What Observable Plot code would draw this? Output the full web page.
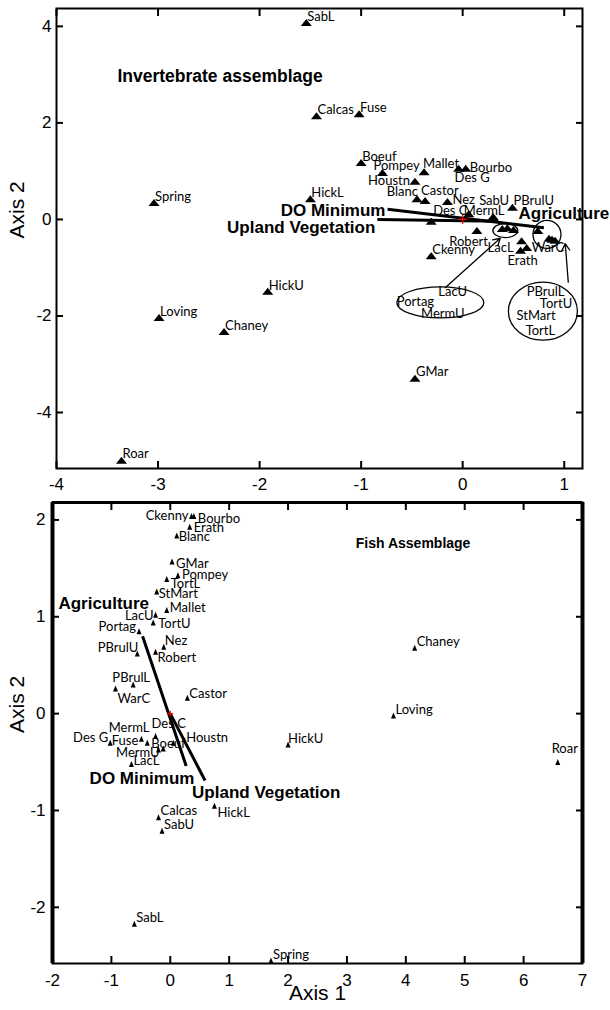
<!DOCTYPE html>
<html><head><meta charset="utf-8">
<script src="https://cdn.jsdelivr.net/npm/d3@7"></script>
<script src="https://cdn.jsdelivr.net/npm/@observablehq/plot@0.6"></script>
<style>body{margin:0;background:#fff;} #chart svg{display:block;}</style>
</head><body><div id="chart"></div>
<script>
// ---- data ----
const sites = ["SabL","Calcas","Fuse","Boeuf","Pompey","Mallet","Bourbo","Des G","Houstn","HickL","Blanc","Castor","Nez","SabU","PBrulU","MermL","Des C","Robert","Ckenny","LacL","WarC","Erath","LacU","Portag","MermU","PBrulL","TortU","StMart","TortL","Spring","Loving","HickU","Chaney","GMar","Roar"];
const invAxis1 = [-1.54,-1.44,-1.02,-1.00,-0.79,-0.38,0.03,-0.04,-0.47,-1.50,-0.45,-0.37,-0.15,0.30,0.49,0.06,-0.31,0.14,-0.31,0.58,0.63,0.57,0.39,0.44,0.50,0.74,0.85,0.88,0.91,-3.04,-2.99,-1.92,-2.35,-0.47,-3.36];
const invAxis2 = [4.08,2.15,2.19,1.18,0.97,0.99,1.06,1.06,0.79,0.43,0.43,0.39,0.37,0.06,0.25,0.12,-0.04,-0.23,-0.75,-0.44,-0.58,-0.64,-0.19,-0.17,-0.21,-0.23,-0.39,-0.41,-0.43,0.35,-2.03,-1.49,-2.32,-3.29,-4.99];
const fishAxis1 = [-0.61,-0.20,-0.39,-0.12,0.13,-0.06,0.40,-1.02,0.05,0.75,0.11,0.29,-0.11,-0.14,-0.56,-0.49,-0.25,-0.25,0.36,-0.66,-0.93,0.33,-0.25,-0.53,-0.20,-0.63,-0.29,-0.23,-0.06,1.71,3.79,2.00,4.15,0.03,6.58];
const fishAxis2 = [-2.17,-1.07,-0.30,-0.36,1.43,1.07,2.04,-0.30,-0.30,-0.95,1.84,0.165,0.69,-1.21,0.62,-0.26,-0.23,0.64,2.04,-0.52,0.26,1.93,1.02,0.85,-0.37,0.30,0.94,1.26,1.39,-2.55,-0.02,-0.32,0.68,1.57,-0.50];

const invTicksX = [-4,-3,-2,-1,0,1];
const invTicksY = [-4,-2,0,2,4];
const fishTicksX = [-2,-1,0,1,2,3,4,5,6,7];
const fishTicksY = [-2,-1,0,1,2];

// environmental vectors (segments)
const invVecX1 = [-0.74,-0.84];
const invVecY1 = [0.21,0.00];
const invVecX2 = [0.80,0.35];
const invVecY2 = [-0.17,-0.04];
const fishVecX1 = [-0.47,0.00];
const fishVecY1 = [0.80,0.00];
const fishVecX2 = [0.27,0.59];
const fishVecY2 = [-0.54,-0.69];

const vecLabels = ["DO Minimum","Upland Vegetation","Agriculture"];
const invVecLabelX = [-0.76,-0.86,0.55];
const invVecLabelY = [0.19,-0.17,0.12];
const fishVecLabelX = [-1.37,0.37,-1.90];
const fishVecLabelY = [-0.67,-0.81,1.14];

// callout groups (top panel)
const groupNames = [["LacU","Portag","MermU"],["PBrulL","TortU","StMart","TortL"]];
const groupCenterX = [-0.22,0.79];
const groupCenterY = [-1.72,-1.90];
const clusterCenterX = [0.42,0.83];
const clusterCenterY = [-0.23,-0.31];
const calloutTextX = [-0.24,-0.65,-0.41,0.63,0.76,0.53,0.62];
const calloutTextY = [-1.51,-1.70,-1.95,-1.51,-1.74,-1.99,-2.30];
const arrowX1 = [-0.17,1.04];
const arrowY1 = [-1.41,-1.30];
const arrowX2 = [0.37,1.01];
const arrowY2 = [-0.39,-0.50];

// ---- label placement (style) ----
const invPlace = {
  "Bourbo":["start",4,0],"Des G":["start",-4,10],"Pompey":["start",-9,-7],"Mallet":["start",-1,-8],
  "Houstn":["end",-5,0],"Blanc":["end",1,-7],"Castor":["start",-4,-10],"Nez":["start",5,-2],
  "SabU":["start",-14,-16],"PBrulU":["start",1,-7],"MermL":["start",-5,-3],"Des C":["start",2,-11],
  "Robert":["end",11,11],"LacL":["end",-8,7],"WarC":["start",5,0],"Erath":["middle",2,11],
  "LacU":null,"Portag":null,"MermU":null,"PBrulL":null,"TortU":null,"StMart":null,"TortL":null
};
const fishPlace = {
  "Ckenny":["end",-3,0],"Bourbo":["start",4,3],"Erath":["start",4,1],"Blanc":["start",2,1],
  "GMar":["start",4,2],"Pompey":["start",4,0],"TortL":["start",4,5],"StMart":["start",2,2],
  "Mallet":["start",3,-2],"LacU":["end",-2,1],"TortU":["start",5,1],"Portag":["end",-3,-4],
  "Nez":["start",1,-6],"PBrulU":["end",1,-6],"Robert":["start",2,6],"PBrulL":["middle",-2,-7],
  "WarC":["start",2,10],"Castor":["start",2,-4],"MermL":["end",8,-11],"Des C":["start",-4,-12],
  "Des G":["end",-2,-5],"Fuse":["end",-9,-2],"Boeuf":["start",-12,-5],"Houstn":["start",13,-5],
  "MermU":["end",1,3],"LacL":["start",2,-3],"HickU":["start",0,-6],"HickL":["start",3,7],
  "Roar":["middle",7,-13]
};

const inv = sites.map((s,i)=>({site:s,x:invAxis1[i],y:invAxis2[i]}));
const fish = sites.map((s,i)=>({site:s,x:fishAxis1[i],y:fishAxis2[i]}));

function tri(w,h){return {draw(c){c.moveTo(0,-h/2);c.lineTo(w/2,h/2);c.lineTo(-w/2,h/2);c.closePath();}};}
function ell(rx,ry){const k=0.5523;return {draw(c){c.moveTo(rx,0);c.bezierCurveTo(rx,ry*k,rx*k,ry,0,ry);c.bezierCurveTo(-rx*k,ry,-rx,ry*k,-rx,0);c.bezierCurveTo(-rx,-ry*k,-rx*k,-ry,0,-ry);c.bezierCurveTo(rx*k,-ry,rx,-ry*k,rx,0);c.closePath();}};}

const LBL = {fontFamily:"Lato, sans-serif", fontSize:13, fill:"black"};
const BOLD = {fontFamily:"Liberation Sans, Arial, sans-serif", fontWeight:"bold", fill:"black"};
const fmt = d => String(d);
const blank = () => "";

function labelMarks(rows, place, def){
  return rows.filter(r => place[r.site] !== null).map(r => {
    const [a,dx,dy] = place[r.site] || def;
    return Plot.text([r], {x:"x", y:"y", text:"site", textAnchor:a, dx, dy, ...LBL});
  });
}

function axes(tx, ty, padX, padY){
  return [
    Plot.axisX({anchor:"bottom", ticks:tx, tickSize:-7, tickPadding:padX, tickFormat:fmt, fontSize:17, strokeWidth:2, label:null}),
    Plot.axisX({anchor:"top", ticks:tx, tickSize:-7, tickFormat:blank, strokeWidth:2, label:null}),
    Plot.axisY({anchor:"left", ticks:ty, tickSize:-7, tickPadding:padY, tickFormat:fmt, fontSize:17, strokeWidth:2, label:null}),
    Plot.axisY({anchor:"right", ticks:ty, tickSize:-7, tickFormat:blank, strokeWidth:2, label:null})
  ];
}

const styleObj = {fontFamily:"Liberation Sans, Arial, sans-serif", background:"white", color:"black", overflow:"visible"};

const topChart = Plot.plot({
  width:610, height:495, marginTop:8, marginBottom:27, marginLeft:56, marginRight:28,
  style: styleObj,
  x:{domain:[-4,1.18]}, y:{domain:[-5.16,4.37]},
  marks:[
    Plot.frame({strokeWidth:2, stroke:"black"}),
    ...axes(invTicksX, invTicksY, 16, 12),
    Plot.text(["Axis 2"], {frameAnchor:"left", dx:-39, rotate:-90, fontSize:21, fill:"black"}),
    Plot.link([0,1], {x1:i=>invVecX1[i], y1:i=>invVecY1[i], x2:i=>invVecX2[i], y2:i=>invVecY2[i], stroke:"black", strokeWidth:3}),
    Plot.dot([0],{x:()=>0,y:()=>0,symbol:"plus",r:3,stroke:"red",strokeWidth:1.2}),
    Plot.dot(inv, {x:"x", y:"y", symbol:tri(11,7), fill:"black"}),
    ...labelMarks(inv, invPlace, ["start",1,-6]),
    Plot.dot([0,1], {x:i=>clusterCenterX[i], y:i=>clusterCenterY[i], symbol:i=>i===0?ell(12.5,7):ell(14,14), stroke:"black", fill:"none", strokeWidth:1.3}),
    Plot.dot([0,1], {x:i=>groupCenterX[i], y:i=>groupCenterY[i], symbol:i=>i===0?ell(43.5,15.5):ell(34.5,29), stroke:"black", fill:"none", strokeWidth:1.3}),
    Plot.arrow([0,1], {x1:i=>arrowX1[i], y1:i=>arrowY1[i], x2:i=>arrowX2[i], y2:i=>arrowY2[i], stroke:"black", strokeWidth:1.3, headLength:9}),
    Plot.text(groupNames.flat(), {x:(d,i)=>calloutTextX[i], y:(d,i)=>calloutTextY[i], text:d=>d, textAnchor:"start", ...LBL}),
    Plot.text([0,1], {x:i=>invVecLabelX[i], y:i=>invVecLabelY[i], text:i=>vecLabels[i], textAnchor:"end", fontSize:17, ...BOLD}),
    Plot.text([2], {x:i=>invVecLabelX[i], y:i=>invVecLabelY[i], text:i=>vecLabels[i], textAnchor:"start", fontSize:17, ...BOLD}),
    Plot.text(["Invertebrate assemblage"], {x:()=>-3.40, y:()=>2.96, text:d=>d, textAnchor:"start", fontSize:17.5, ...BOLD})
  ]
});

const bottomChart = Plot.plot({
  width:610, height:515, marginTop:7, marginBottom:47, marginLeft:52, marginRight:28,
  style: styleObj,
  x:{domain:[-2,7]}, y:{domain:[-2.58,2.18]},
  marks:[
    Plot.frame({strokeWidth:2, stroke:"black"}),
    Plot.ruleX([-2,7], {strokeWidth:4, stroke:"black"}),
    Plot.ruleY([2.18], {strokeWidth:3, stroke:"black"}),
    ...axes(fishTicksX, fishTicksY, 17, 14),
    Plot.text(["Axis 2"], {frameAnchor:"left", dx:-35, rotate:-90, fontSize:21, fill:"black"}),
    Plot.text(["Axis 1"], {frameAnchor:"bottom", dy:36, fontSize:21, fill:"black"}),
    Plot.link([0,1], {x1:i=>fishVecX1[i], y1:i=>fishVecY1[i], x2:i=>fishVecX2[i], y2:i=>fishVecY2[i], stroke:"black", strokeWidth:3}),
    Plot.dot([0],{x:()=>0,y:()=>0,symbol:"plus",r:2,stroke:"red",strokeWidth:1.2}),
    Plot.dot(fish, {x:"x", y:"y", symbol:tri(5,6), fill:"black"}),
    ...labelMarks(fish, fishPlace, ["start",2,-6]),
    Plot.text([0,1,2], {x:i=>fishVecLabelX[i], y:i=>fishVecLabelY[i], text:i=>vecLabels[i], textAnchor:"start", fontSize:17, ...BOLD}),
    Plot.text(["Fish Assemblage"], {x:()=>3.15, y:()=>1.76, text:d=>d, textAnchor:"start", fontSize:14, ...BOLD})
  ]
});

const el = document.getElementById("chart");
el.appendChild(topChart);
el.appendChild(bottomChart);
</script>
</body></html>
